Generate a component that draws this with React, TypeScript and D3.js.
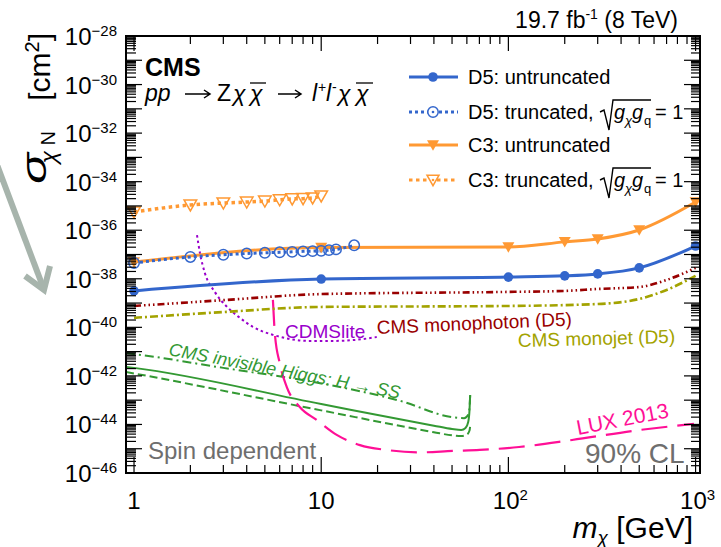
import React from 'react';
import * as d3 from 'd3';

const W = 721;
const H = 547;
const PLOT = { left: 126, right: 700, top: 36, bottom: 473 };
const X_DOMAIN: [number, number] = [0.906, 1056];
const Y_EXP_DOMAIN: [number, number] = [-46, -28];

// D5 untruncated (mass GeV, log10 sigma)
const D5_MASS = [1, 10, 100, 200, 300, 500, 1000];
const D5_LOGXS = [-38.5, -38.01, -37.93, -37.88, -37.8, -37.55, -36.65];
// D5 truncated
const D5T_MASS = [1, 2, 3, 4, 5, 6, 7, 8, 9, 10, 11, 12, 15];
const D5T_LOGXS = [-37.35, -37.1, -37.01, -36.96, -36.93, -36.91, -36.89, -36.87, -36.86, -36.85, -36.82, -36.79, -36.62];
// C3 untruncated
const C3_MASS = [1, 10, 100, 200, 300, 500, 1000];
const C3_LOGXS = [-37.31, -36.71, -36.69, -36.48, -36.36, -35.99, -34.84];
// C3 truncated
const C3T_MASS = [1, 2, 3, 4, 5, 6, 7, 8, 9, 10];
const C3T_LOGXS = [-35.25, -34.96, -34.88, -34.84, -34.8, -34.75, -34.71, -34.7, -34.67, -34.59];
// CMS monophoton (D5)
const MONOPH_MASS = [1, 3, 10, 100, 200, 300, 500, 700, 1000];
const MONOPH_LOGXS = [-39.12, -38.88, -38.63, -38.54, -38.5, -38.42, -38.34, -38.05, -37.55];
// CMS monojet (D5)
const MONOJ_MASS = [1, 3, 10, 100, 300, 500, 700, 1000];
const MONOJ_LOGXS = [-39.61, -39.37, -39.16, -39.12, -39.04, -38.83, -38.46, -37.88];
// CDMSlite
const CDMS_MASS = [2.17, 2.25, 2.39, 2.7, 3.14, 3.68, 4.31, 5.52, 6.8, 8.7, 11.5, 15.1, 19.8];
const CDMS_LOGXS = [-36.2, -36.94, -37.76, -38.54, -39.16, -39.61, -39.98, -40.31, -40.48, -40.56, -40.56, -40.52, -40.4];
// LUX 2013
const LUX_MASS = [5.52, 5.65, 6.0, 6.55, 7.68, 9.47, 12.1, 16.1, 22.3, 33.6, 50.4, 70.3, 114, 219, 500, 980];
const LUX_LOGXS = [-38.87, -40.23, -41.47, -42.46, -43.28, -43.82, -44.43, -44.85, -45.05, -45.15, -45.09, -45.05, -44.93, -44.64, -44.23, -43.98];
// CMS invisible Higgs H -> SS
const HIGGS_OBS_MASS = [0.906, 1, 10, 40, 50, 56, 59, 61, 62, 62.5];
const HIGGS_OBS_LOGXS = [-41.63, -41.67, -43.16, -44.05, -44.19, -44.23, -44.15, -43.9, -43.4, -42.79];
const HIGGS_DD_MASS = [0.906, 1, 3, 10, 27, 50, 58, 61, 62, 62.5];
const HIGGS_DD_LOGXS = [-41.06, -41.1, -41.67, -42.31, -43.05, -43.7, -43.74, -43.6, -43.3, -42.79];
const HIGGS_DASH_MASS = [0.906, 1, 10, 40, 50, 56, 60, 62, 62.5];
const HIGGS_DASH_LOGXS = [-41.84, -41.9, -43.42, -44.32, -44.45, -44.48, -44.42, -44.25, -44.05];

const Y_LABEL_EXPS = [-28, -30, -32, -34, -36, -38, -40, -42, -44, -46];
const X_LABELS = [
  { v: 1, base: '1', exp: '' },
  { v: 10, base: '10', exp: '' },
  { v: 100, base: '10', exp: '2' },
  { v: 1000, base: '10', exp: '3' },
];

const FONT = "'Liberation Sans', Arial, Helvetica, sans-serif";

const BLUE = '#3366cc';
const ORANGE = '#ff9933';
const DARKRED = '#990000';
const OLIVE = '#a3a300';
const PURPLE = '#9900cc';
const PINK = '#ff0f96';
const GREEN = '#339933';
const GRAY = '#6e6e6e';

const zip = (a: number[], b: number[]) => a.map((m, i) => [m, b[i]] as [number, number]);

export default function App() {
  const x = d3.scaleLog().domain(X_DOMAIN).range([PLOT.left, PLOT.right]);
  const y = d3.scaleLog().domain([Math.pow(10, Y_EXP_DOMAIN[0]), Math.pow(10, Y_EXP_DOMAIN[1])]).range([PLOT.bottom, PLOT.top]);
  const line = d3
    .line<[number, number]>()
    .x((d) => x(d[0]))
    .y((d) => y(Math.pow(10, d[1])))
    .curve(d3.curveMonotoneX);

  const px = (m: number) => x(m);
  const py = (e: number) => y(Math.pow(10, e));

  const yMajor: number[] = [];
  const yMinor: number[] = [];
  for (let e = Y_EXP_DOMAIN[0]; e <= Y_EXP_DOMAIN[1]; e++) {
    yMajor.push(e);
    if (e < Y_EXP_DOMAIN[1]) for (let k = 2; k <= 9; k++) yMinor.push(e + Math.log10(k));
  }
  const xMajor: number[] = [];
  const xMinor: number[] = [];
  for (let e = -1; e <= 3; e++) {
    const b = Math.pow(10, e);
    if (b >= X_DOMAIN[0] && b <= X_DOMAIN[1]) xMajor.push(b);
    for (let k = 2; k <= 9; k++) {
      const v = k * b;
      if (v >= X_DOMAIN[0] && v <= X_DOMAIN[1]) xMinor.push(v);
    }
  }

  const triDown = (cx: number, cy: number, s: number) =>
    `M${cx - s},${cy - s * 0.8} L${cx + s},${cy - s * 0.8} L${cx},${cy + s * 0.95} Z`;

  const legendRows = [
    { y: 77, color: BLUE, dash: undefined, marker: 'dot', label: 'D5: untruncated', sqrt: false },
    { y: 112, color: BLUE, dash: '3,3', marker: 'ocircle', label: 'D5: truncated,', sqrt: true },
    { y: 145, color: ORANGE, dash: undefined, marker: 'tri', label: 'C3: untruncated', sqrt: false },
    { y: 180, color: ORANGE, dash: '3.5,3.5', marker: 'otri', label: 'C3: truncated,', sqrt: true },
  ];

  const procY = 101;
  const arrow = (x0: number, x1: number, yy: number) =>
    `M${x0},${yy} L${x1},${yy} M${x1 - 6},${yy - 4} L${x1},${yy} L${x1 - 6},${yy + 4}`;

  return (
    <svg width={W} height={H} style={{ position: 'absolute', left: 0, top: 0, background: '#fff' }} fontFamily={FONT}>
      <defs>
        <clipPath id="plotclip">
          <rect x={PLOT.left} y={PLOT.top} width={PLOT.right - PLOT.left} height={PLOT.bottom - PLOT.top} />
        </clipPath>
      </defs>
      <rect x={0} y={0} width={W} height={H} fill="#fff" />

      {/* gray arrow */}
      <g stroke="#a7b4ac" strokeWidth={6} fill="none">
        <line x1={-12} y1={141} x2={43} y2={287} />
        <polyline points="25,276 44,290 50,266" strokeLinejoin="miter" />
      </g>

      {/* curves */}
      <g clipPath="url(#plotclip)" fill="none">
        <path d={line(zip(HIGGS_DD_MASS, HIGGS_DD_LOGXS)) || ''} stroke={GREEN} strokeWidth={2} strokeDasharray="9,4,2,4" />
        <path d={line(zip(HIGGS_OBS_MASS, HIGGS_OBS_LOGXS)) || ''} stroke={GREEN} strokeWidth={2} />
        <path d={line(zip(HIGGS_DASH_MASS, HIGGS_DASH_LOGXS)) || ''} stroke={GREEN} strokeWidth={2} strokeDasharray="8,4" />
        <path d={line(zip(LUX_MASS, LUX_LOGXS)) || ''} stroke={PINK} strokeWidth={2.2} strokeDasharray="26,10" />
        <path d={line(zip(CDMS_MASS, CDMS_LOGXS)) || ''} stroke={PURPLE} strokeWidth={2} strokeDasharray="2.5,3" />
        <path d={line(zip(MONOJ_MASS, MONOJ_LOGXS)) || ''} stroke={OLIVE} strokeWidth={2.6} strokeDasharray="8,3,2,3" />
        <path d={line(zip(MONOPH_MASS, MONOPH_LOGXS)) || ''} stroke={DARKRED} strokeWidth={2.6} strokeDasharray="7,3,1.5,3,1.5,3,1.5,3" />
        <path d={line(zip(C3_MASS, C3_LOGXS)) || ''} stroke={ORANGE} strokeWidth={3} />
        <path d={line(zip(D5_MASS, D5_LOGXS)) || ''} stroke={BLUE} strokeWidth={3} />
        <path d={line(zip(C3T_MASS, C3T_LOGXS)) || ''} stroke={ORANGE} strokeWidth={3.5} strokeDasharray="3.5,3.5" />
        <path d={line(zip(D5T_MASS, D5T_LOGXS)) || ''} stroke={BLUE} strokeWidth={3} strokeDasharray="3,3" />

        {C3_MASS.map((m, i) => (
          <path key={'c3' + i} d={triDown(px(m), py(C3_LOGXS[i]), 6)} fill={ORANGE} stroke="none" />
        ))}
        {D5_MASS.map((m, i) => (
          <circle key={'d5' + i} cx={px(m)} cy={py(D5_LOGXS[i])} r={4.8} fill={BLUE} />
        ))}
        {C3T_MASS.map((m, i) => (
          <path key={'c3t' + i} d={triDown(px(m), py(C3T_LOGXS[i]), 6.3)} fill="none" stroke={ORANGE} strokeWidth={1.5} />
        ))}
        {D5T_MASS.map((m, i) => (
          <circle key={'d5t' + i} cx={px(m)} cy={py(D5T_LOGXS[i])} r={5.2} fill="none" stroke={BLUE} strokeWidth={1.5} />
        ))}
      </g>

      {/* axes ticks */}
      <g stroke="#000" strokeWidth={1.2}>
        {yMajor.map((e) => (
          <g key={'ym' + e}>
            <line x1={PLOT.left} x2={PLOT.left + 16} y1={py(e)} y2={py(e)} />
            <line x1={PLOT.right} x2={PLOT.right - 16} y1={py(e)} y2={py(e)} />
          </g>
        ))}
        {yMinor.map((e, i) => (
          <g key={'yn' + i}>
            <line x1={PLOT.left} x2={PLOT.left + 10} y1={py(e)} y2={py(e)} />
            <line x1={PLOT.right} x2={PLOT.right - 9} y1={py(e)} y2={py(e)} />
          </g>
        ))}
        {xMajor.map((v) => (
          <g key={'xm' + v}>
            <line x1={px(v)} x2={px(v)} y1={PLOT.bottom} y2={PLOT.bottom - 16} />
            <line x1={px(v)} x2={px(v)} y1={PLOT.top} y2={PLOT.top + 15} />
          </g>
        ))}
        {xMinor.map((v, i) => (
          <g key={'xn' + i}>
            <line x1={px(v)} x2={px(v)} y1={PLOT.bottom} y2={PLOT.bottom - 8} />
            <line x1={px(v)} x2={px(v)} y1={PLOT.top} y2={PLOT.top + 8} />
          </g>
        ))}
      </g>
      <rect x={PLOT.left} y={PLOT.top} width={PLOT.right - PLOT.left} height={PLOT.bottom - PLOT.top} fill="none" stroke="#000" strokeWidth={2} />

      {/* y tick labels */}
      {Y_LABEL_EXPS.map((e) => (
        <text key={'yl' + e} x={117} y={py(e) + 9} textAnchor="end" fontSize={24} fill="#000">
          10
          <tspan fontSize={15} dy={-9}>
            {'\u2212' + Math.abs(e)}
          </tspan>
        </text>
      ))}
      {/* x tick labels */}
      {X_LABELS.map((l) => (
        <text key={'xl' + l.v} x={px(l.v) + (l.exp ? 2 : 0)} y={509} textAnchor="middle" fontSize={24} fill="#000">
          {l.base}
          {l.exp ? (
            <tspan fontSize={15} dy={-9}>
              {l.exp}
            </tspan>
          ) : null}
        </text>
      ))}

      {/* y axis title */}
      <text transform="translate(50,33) rotate(-90)" textAnchor="end" fontSize={30} fill="#000">
        [cm<tspan fontSize={20} dy={-11}>2</tspan>
        <tspan dy={11}>]</tspan>
      </text>
      <text transform="translate(55,131) rotate(-90)" textAnchor="end" fontSize={20} fill="#000">N</text>
      <text transform="translate(56,151) rotate(-90)" textAnchor="end" fontSize={23} fontStyle="italic" fill="#000">χ</text>
      <text transform="translate(46,184) rotate(-90)" fontSize={36} fontStyle="italic" fill="#000" textLength={31} lengthAdjust="spacingAndGlyphs">σ</text>

      {/* x axis title */}
      <text x={693} y={538} textAnchor="end" fontSize={30} fill="#000">
        <tspan fontStyle="italic">m</tspan>
        <tspan fontSize={19} dy={6} fontStyle="italic">χ</tspan>
        <tspan dy={-6}> [GeV]</tspan>
      </text>

      {/* header */}
      <text x={678} y={28} textAnchor="end" fontSize={23} fill="#000">
        19.7 fb<tspan fontSize={14} dy={-9}>-1</tspan>
        <tspan dy={9}> (8 TeV)</tspan>
      </text>
      <text x={145} y={76} fontSize={25} fontWeight="bold" fill="#000">CMS</text>
      <g fontSize={23} fill="#000">
        <text x={145} y={procY} fontStyle="italic">pp</text>
        <path d={arrow(185, 210, procY - 7)} stroke="#000" strokeWidth={1.5} fill="none" />
        <text x={217} y={procY}>Z</text>
        <text x={233} y={procY} fontStyle="italic">χ</text>
        <text x={250} y={procY} fontStyle="italic">χ</text>
        <line x1={250} x2={266} y1={procY - 18} y2={procY - 18} stroke="#000" strokeWidth={1.3} />
        <path d={arrow(278, 301, procY - 7)} stroke="#000" strokeWidth={1.5} fill="none" />
        <text x={312} y={procY} fontStyle="italic">l</text>
        <text x={318} y={procY - 9} fontSize={14}>+</text>
        <text x={326} y={procY} fontStyle="italic">l</text>
        <text x={332} y={procY - 9} fontSize={14}>-</text>
        <text x={338} y={procY} fontStyle="italic">χ</text>
        <text x={356} y={procY} fontStyle="italic">χ</text>
        <line x1={356} x2={373} y1={procY - 18} y2={procY - 18} stroke="#000" strokeWidth={1.3} />
      </g>

      {/* legend */}
      {legendRows.map((r, i) => {
        const b = r.y + 7;
        return (
          <g key={'lg' + i}>
            <line x1={409} x2={458} y1={r.y} y2={r.y} stroke={r.color} strokeWidth={3} strokeDasharray={r.dash} />
            {r.marker === 'dot' && <circle cx={433} cy={r.y} r={4.8} fill={r.color} />}
            {r.marker === 'ocircle' && (
              <g>
                <circle cx={433} cy={r.y} r={5.2} fill="#fff" stroke={r.color} strokeWidth={1.5} />
                <circle cx={433} cy={r.y} r={1.3} fill={r.color} />
              </g>
            )}
            {r.marker === 'tri' && <path d={triDown(433, r.y, 6)} fill={r.color} />}
            {r.marker === 'otri' && (
              <g>
                <path d={triDown(433, r.y, 6)} fill="#fff" stroke={r.color} strokeWidth={1.5} />
                <circle cx={433} cy={r.y} r={1.3} fill={r.color} />
              </g>
            )}
            <text x={468} y={b} fontSize={20} fill="#000">{r.label}</text>
            {r.sqrt && (
              <g>
                <path d={`M600,${b - 7} L604,${b - 9} L609,${b + 11} L613,${b - 19} L651,${b - 19}`} fill="none" stroke="#000" strokeWidth={1.4} />
                <text x={614} y={b} fontSize={20} fontStyle="italic" fill="#000">g</text>
                <text x={625} y={b + 6} fontSize={13} fontStyle="italic" fill="#000">χ</text>
                <text x={632} y={b} fontSize={20} fontStyle="italic" fill="#000">g</text>
                <text x={644} y={b + 6} fontSize={13} fill="#000">q</text>
                <text x={655} y={b} fontSize={20} fill="#000">= 1</text>
              </g>
            )}
          </g>
        );
      })}

      {/* curve labels */}
      <text x={285} y={338} fontSize={19} fill={PURPLE}>CDMSlite</text>
      <text x={377} y={334} fontSize={19} fill={DARKRED} transform="rotate(-2.5 377 334)">CMS monophoton (D5)</text>
      <text x={518} y={347} fontSize={19} fill={OLIVE} transform="rotate(-1.5 518 347)">CMS monojet (D5)</text>
      <text x={168} y={355} fontSize={18} fontStyle="italic" fill={GREEN} transform="rotate(10.7 168 355)">
        CMS invisible Higgs: H → SS
      </text>
      <text x={578} y={435} fontSize={21} fill={PINK} transform="rotate(-11 578 435)">LUX 2013</text>
      <text x={148} y={459} fontSize={24} fill={GRAY}>Spin dependent</text>
      <text x={585} y={463} fontSize={28} fill={GRAY}>90% CL</text>
    </svg>
  );
}
